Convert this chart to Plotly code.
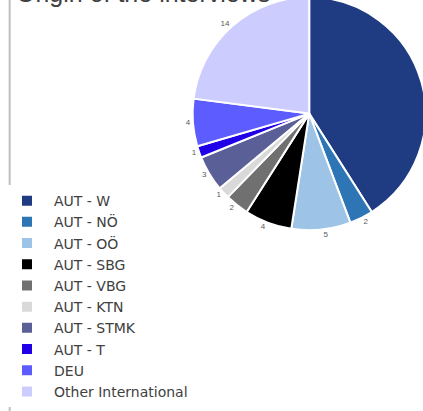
import plotly.graph_objects as go

# origin of the interviews, counts per region
regions = ["AUT - W", "AUT - NÖ", "AUT - OÖ", "AUT - SBG", "AUT - VBG",
           "AUT - KTN", "AUT - STMK", "AUT - T", "DEU", "Other International"]
counts = [25, 2, 5, 4, 2, 1, 3, 1, 4, 14]
slice_colors = ["#1F3B82", "#2E75B6", "#9DC3E6", "#000000", "#707070",
                "#D9D9D9", "#5B5F97", "#2000E6", "#5C5CFF", "#CCCCFF"]

TOP_CUT = 8          # px of the figure hidden above the window (source is cropped)
FIG_W = 445          # wider than the 423 window so the pie is cut at the right
FIG_H = 411 + TOP_CUT

fig = go.Figure(
    go.Pie(
        labels=regions,
        values=counts,
        sort=False,
        direction="clockwise",
        rotation=0,
        marker=dict(colors=slice_colors, line=dict(color="white", width=2)),
        textinfo="value",
        textposition="outside",
        textfont=dict(size=8, color="#595959", family="Liberation Sans"),
        domain=dict(x=[195 / FIG_W, 1], y=[1 - 236 / FIG_H, 1]),
    )
)

# title sits mostly above the visible area
fig.add_annotation(
    text="Origin of the interviews",
    xref="paper", yref="paper",
    x=14 / FIG_W, y=1,
    xanchor="left", yanchor="bottom",
    yshift=-(TOP_CUT + 4),
    showarrow=False,
    font=dict(size=25, color="#404040", family="Liberation Sans"),
)

# left frame line of the original chart box
fig.add_shape(
    type="line", xref="paper", yref="paper",
    x0=10 / FIG_W, x1=10 / FIG_W, y0=0, y1=1,
    line=dict(color="#BFBFBF", width=2),
)

fig.update_layout(
    width=FIG_W, height=FIG_H,
    margin=dict(l=0, r=0, t=0, b=0),
    paper_bgcolor="white",
    showlegend=True,
    legend=dict(
        x=0, y=4 / FIG_H, xanchor="left", yanchor="bottom",
        itemwidth=44,
        font=dict(size=14, color="#404040", family="DejaVu Sans"),
        traceorder="normal",
    ),
)

fig.write_html(
    "out.html",
    config={"displayModeBar": False},
    post_script=("document.body.style.margin='-%dpx 0 0 0';"
                 "document.body.style.overflow='hidden';" % TOP_CUT),
)
